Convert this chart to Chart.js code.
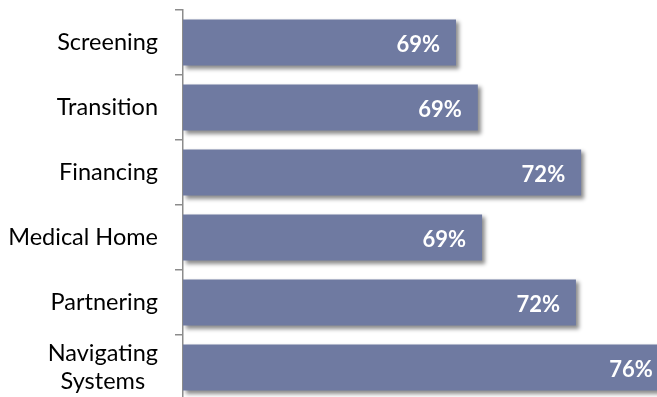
<!DOCTYPE html>
<html>
<head>
<meta charset="utf-8">
<script src="https://cdn.jsdelivr.net/npm/chart.js@4.4.1/dist/chart.umd.min.js"></script>
<style>
html,body{margin:0;padding:0;background:#fff;overflow:hidden;}
#wrap{width:657px;height:397px;position:relative;overflow:hidden;}
</style>
</head>
<body>
<div id="wrap"><canvas id="c" width="657" height="400"></canvas></div>
<script>
// Categories (top to bottom)
const categories = [['Screening'], ['Transition'], ['Financing'], ['Medical Home'], ['Partnering'], ['Navigating', 'Systems']];
// Bar lengths as drawn (relative scale 0-100)
const barLengths = [57.6, 62.2, 84.0, 63.1, 82.9, 102.5];
// Percent labels printed on the bars
const percentLabels = ['69%', '69%', '72%', '69%', '72%', '76%'];

const FONT = 'Lato';

const shadowPlugin = {
  id: 'barShadow',
  beforeDatasetDraw(chart) {
    const ctx = chart.ctx;
    ctx.save();
    ctx.shadowColor = 'rgba(0,0,0,0.45)';
    ctx.shadowBlur = 4;
    ctx.shadowOffsetX = 3;
    ctx.shadowOffsetY = 3;
  },
  afterDatasetDraw(chart) {
    chart.ctx.restore();
  }
};

const labelPlugin = {
  id: 'labels',
  afterDatasetsDraw(chart) {
    const ctx = chart.ctx;
    const meta = chart.getDatasetMeta(0);
    ctx.save();
    ctx.fillStyle = '#ffffff';
    ctx.font = 'bold 22px ' + FONT;
    ctx.textAlign = 'right';
    ctx.textBaseline = 'middle';
    meta.data.forEach((bar, i) => {
      ctx.fillText(percentLabels[i], bar.x - 16, bar.y + 2);
    });
    // category labels
    const yScale = chart.scales.y;
    ctx.fillStyle = '#000000';
    ctx.font = '23.5px ' + FONT;
    const rightX = yScale.right - 25;
    categories.forEach((lines, i) => {
      const cy = yScale.getPixelForValue(i);
      const lh = 28;
      const widths = lines.map(l => ctx.measureText(l).width);
      const maxW = Math.max(...widths);
      const cx = rightX - maxW / 2;
      ctx.textAlign = 'center';
      lines.forEach((l, j) => {
        const y = cy + (j - (lines.length - 1) / 2) * lh;
        ctx.fillText(l, cx, y);
      });
    });
    ctx.restore();
  }
};

new Chart(document.getElementById('c'), {
  type: 'bar',
  data: {
    labels: categories,
    datasets: [{
      data: barLengths,
      backgroundColor: '#6F7AA1',
      borderWidth: 0,
      barPercentage: 0.71,
      categoryPercentage: 1.0
    }]
  },
  options: {
    indexAxis: 'y',
    responsive: false,
    animation: false,
    events: [],
    layout: { padding: { top: 10, right: 0, bottom: 0, left: 0 } },
    plugins: { legend: { display: false }, tooltip: { enabled: false } },
    scales: {
      x: {
        display: false,
        min: 0,
        max: 100
      },
      y: {
        offset: true,
        afterFit(s) { s.width = 183; },
        grid: {
          display: true,
          drawOnChartArea: false,
          drawTicks: true,
          tickLength: 8,
          offset: true,
          color: '#8c8c8c',
          lineWidth: 1.5
        },
        border: { display: true, color: '#8c8c8c', width: 1.5 },
        ticks: { display: false }
      }
    }
  },
  plugins: [shadowPlugin, labelPlugin]
});
</script>
</body>
</html>
